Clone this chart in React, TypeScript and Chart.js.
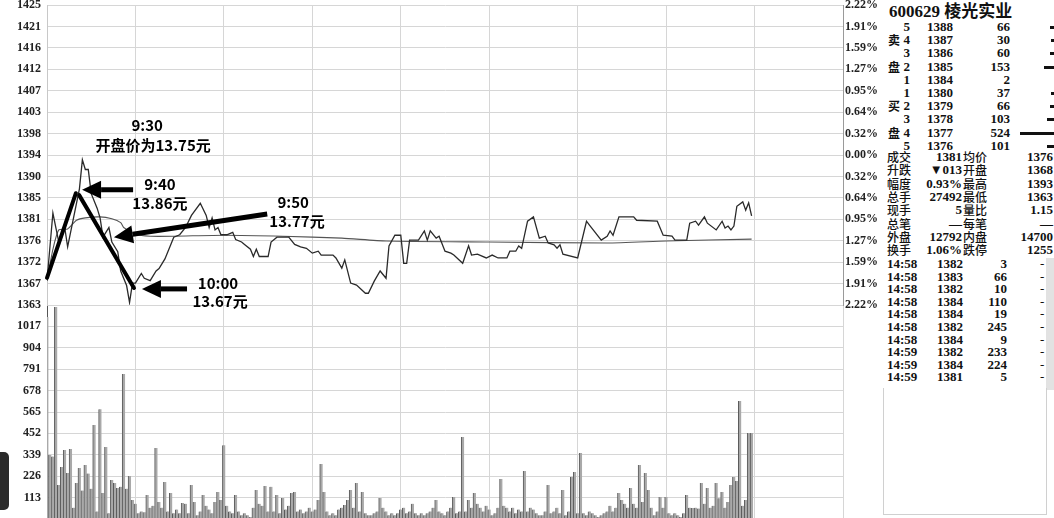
import React, { useEffect, useRef } from 'react';
import { Chart, registerables } from 'chart.js';

Chart.register(...registerables);

// ---------- data ----------
const PREV_CLOSE = 13.94;
const PRICE_STEP = 0.04433;
const MINUTES_SPAN = 270;

const priceTickLabels = ['1425', '1421', '1416', '1412', '1407', '1403', '1398', '1394', '1390', '1385', '1381', '1376', '1372', '1367', '1363'];
const percentTickLabels = ['2.22%', '1.91%', '1.59%', '1.27%', '0.95%', '0.64%', '0.32%', '0.00%', '0.32%', '0.64%', '0.95%', '1.27%', '1.59%', '1.91%', '2.22%'];
const volumeTickLabels = ['1017', '904', '791', '678', '565', '452', '339', '226', '113'];
const VOLUME_STEP = 113;
const VOLUME_MAX = 1130;

// [minute since 9:30, price]
const pricePath: [number, number][] = [
  [0, 13.68], [2, 13.82], [3, 13.79], [4, 13.76], [6, 13.79], [7, 13.75], [9, 13.81], [11, 13.87],
  [12, 13.93], [13, 13.91], [14, 13.91], [15, 13.86], [17, 13.83], [18, 13.81], [19, 13.77], [21, 13.79],
  [22, 13.76], [24, 13.74], [25, 13.70], [27, 13.67], [28, 13.635], [29, 13.675], [30, 13.675], [32, 13.695],
  [33, 13.685], [35, 13.68], [37, 13.70], [38, 13.705], [40, 13.725], [42, 13.755], [43, 13.77], [45, 13.775],
  [47, 13.79], [49, 13.815], [52, 13.84], [54, 13.815], [55, 13.79], [56, 13.81], [57, 13.785], [58, 13.79],
  [59, 13.775], [61, 13.775], [63, 13.78], [64, 13.765], [66, 13.76], [67, 13.755], [69, 13.745], [70, 13.73],
  [71, 13.745], [72, 13.73], [75, 13.73], [76, 13.76], [78, 13.77], [82, 13.77], [84, 13.755], [86, 13.75],
  [88, 13.747], [90, 13.737], [92, 13.741], [93, 13.733], [97, 13.733], [98, 13.727], [100, 13.706], [101, 13.723],
  [103, 13.675], [105, 13.671], [108, 13.654], [109, 13.654], [111, 13.679], [113, 13.70], [115, 13.685], [116, 13.752],
  [118, 13.774], [120, 13.774], [121, 13.716], [122, 13.716], [123, 13.764], [126, 13.764], [128, 13.783], [129, 13.764],
  [130, 13.783], [132, 13.768], [133, 13.772], [135, 13.741], [137, 13.737], [138, 13.733], [141, 13.716], [143, 13.752],
  [144, 13.733], [146, 13.735], [149, 13.727], [151, 13.733], [153, 13.727], [156, 13.727], [157, 13.741], [159, 13.741],
  [160, 13.752], [161, 13.747], [163, 13.803], [165, 13.812], [167, 13.768], [169, 13.772], [170, 13.758], [172, 13.754],
  [173, 13.747], [174, 13.754], [175, 13.735], [180, 13.727], [183, 13.803], [184, 13.795], [188, 13.764], [190, 13.772],
  [191, 13.783], [192, 13.774], [194, 13.812], [199, 13.812], [200, 13.805], [207, 13.803], [209, 13.774], [212, 13.772],
  [213, 13.764], [217, 13.764], [218, 13.799], [220, 13.803], [221, 13.795], [223, 13.812], [224, 13.799], [227, 13.785],
  [229, 13.803], [230, 13.789], [231, 13.793], [232, 13.785], [233, 13.793], [234, 13.834], [236, 13.843], [237, 13.826],
  [238, 13.841], [239, 13.814],
];

// [minute since 9:30, average price]
const averagePath: [number, number][] = [
  [0, 13.68], [2, 13.745], [4, 13.785], [7, 13.787], [10, 13.805], [13, 13.81], [18, 13.812], [22, 13.808],
  [25, 13.80], [26, 13.79], [30, 13.776], [35, 13.772], [43, 13.772], [60, 13.774], [80, 13.772], [100, 13.768],
  [115, 13.762], [150, 13.76], [190, 13.758], [210, 13.762], [239, 13.766],
];

// per-minute volume (手)
const volumeValues = [
  1067, 338, 330, 1120, 180, 275, 364, 243, 370, 60, 190, 269, 150, 285, 240, 160, 496, 40, 580, 137,
  380, 30, 206, 190, 164, 170, 766, 160, 227, 100, 80, 30, 40, 35, 127, 60, 70, 375, 90, 60,
  196, 40, 137, 30, 50, 30, 84, 80, 30, 180, 90, 20, 40, 127, 70, 50, 30, 90, 143, 100,
  390, 70, 40, 30, 127, 40, 20, 30, 20, 10, 60, 153, 80, 70, 174, 40, 170, 40, 127, 30,
  111, 50, 70, 137, 143, 40, 50, 30, 40, 60, 40, 50, 100, 290, 143, 40, 20, 30, 20, 50,
  60, 74, 100, 153, 60, 190, 40, 143, 30, 20, 20, 30, 40, 111, 60, 40, 20, 30, 20, 30,
  50, 60, 30, 40, 80, 30, 20, 30, 20, 30, 40, 60, 100, 40, 30, 20, 40, 60, 116, 30,
  40, 433, 40, 100, 60, 137, 80, 60, 40, 70, 50, 20, 30, 60, 211, 70, 60, 40, 60, 30,
  50, 40, 253, 40, 60, 50, 30, 20, 20, 40, 180, 30, 40, 60, 30, 153, 20, 40, 222, 248,
  30, 348, 30, 20, 40, 30, 20, 10, 20, 30, 40, 70, 40, 60, 137, 100, 80, 60, 164, 80,
  60, 285, 90, 243, 153, 60, 20, 40, 116, 60, 116, 30, 20, 30, 20, 10, 30, 127, 60, 58,
  60, 55, 190, 80, 164, 60, 70, 190, 110, 143, 60, 90, 180, 222, 200, 623, 70, 100, 454, 454,
];

// annotations anchored in [minute, price]
const annotationStrokes: { from: [number, number]; to: [number, number] }[] = [
  { from: [0, 13.686], to: [9.8, 13.861] },
  { from: [10.9, 13.857], to: [29.5, 13.665] },
];
const annotationArrows: { from: [number, number]; to: [number, number] }[] = [
  { from: [29.2, 13.868], to: [11.9, 13.868] },
  { from: [74.7, 13.818], to: [22.7, 13.77] },
  { from: [47.5, 13.663], to: [32.2, 13.663] },
];
const annotationTexts: { text: string; at: [number, number] }[] = [
  { text: '9:30', at: [34, 14.002] },
  { text: '开盘价为13.75元', at: [36, 13.961] },
  { text: '9:40', at: [38.3, 13.88] },
  { text: '13.86元', at: [38.3, 13.841] },
  { text: '9:50', at: [83.5, 13.843] },
  { text: '13.77元', at: [84.8, 13.803] },
  { text: '10:00', at: [58, 13.675] },
  { text: '13.67元', at: [58.7, 13.638] },
];

// side panel
const stockTitle = '600629 棱光实业';
const askLevels = ['5', '4', '3', '2', '1'];
const askPrices = ['1388', '1387', '1386', '1385', '1384'];
const askVolumes = [66, 30, 60, 153, 2];
const bidLevels = ['1', '2', '3', '4', '5'];
const bidPrices = ['1380', '1379', '1378', '1377', '1376'];
const bidVolumes = [37, 66, 103, 524, 101];
const infoLabelsLeft = ['成交', '升跌', '幅度', '总手', '现手', '总笔', '外盘', '换手'];
const infoValuesLeft = ['1381', '▼013', '0.93%', '27492', '5', '—', '12792', '1.06%'];
const infoLabelsRight = ['均价', '开盘', '最高', '最低', '量比', '每笔', '内盘', '跌停'];
const infoValuesRight = ['1376', '1368', '1393', '1363', '1.15', '—', '14700', '1255'];
const tradeTimes = ['14:58', '14:58', '14:58', '14:58', '14:58', '14:58', '14:58', '14:59', '14:59', '14:59'];
const tradePrices = ['1382', '1383', '1382', '1384', '1384', '1382', '1384', '1382', '1384', '1381'];
const tradeVolumes = ['3', '66', '10', '110', '19', '245', '9', '233', '224', '5'];

// ---------- styling ----------
const NUM_FONT = "'Liberation Serif', 'Noto Sans CJK SC', serif";
const CJK_FONT = "'Noto Sans CJK SC', sans-serif";
const GRID = '#d6d6d6';
const W = 1054;

const PRICE_MIN = PREV_CLOSE - 7 * PRICE_STEP;
const PRICE_MAX = PREV_CLOSE + 7 * PRICE_STEP;

const annotationPlugin = {
  id: 'tapeAnnotations',
  afterDraw(chart: any) {
    const { ctx } = chart;
    const xs = chart.scales.x;
    const ys = chart.scales.y;
    const px = (p: [number, number]) => [xs.getPixelForValue(p[0]), ys.getPixelForValue(p[1])];
    ctx.save();
    ctx.strokeStyle = '#000';
    ctx.fillStyle = '#000';
    ctx.lineCap = 'round';
    ctx.lineWidth = 4;
    for (const s of annotationStrokes) {
      const [x1, y1] = px(s.from);
      const [x2, y2] = px(s.to);
      ctx.beginPath();
      ctx.moveTo(x1, y1);
      ctx.lineTo(x2, y2);
      ctx.stroke();
    }
    for (const a of annotationArrows) {
      const [x1, y1] = px(a.from);
      const [x2, y2] = px(a.to);
      const ang = Math.atan2(y2 - y1, x2 - x1);
      const headLen = 19;
      const headHalf = 9;
      const bx = x2 - headLen * Math.cos(ang);
      const by = y2 - headLen * Math.sin(ang);
      ctx.lineWidth = 5;
      ctx.lineCap = 'butt';
      ctx.beginPath();
      ctx.moveTo(x1, y1);
      ctx.lineTo(bx, by);
      ctx.stroke();
      ctx.beginPath();
      ctx.moveTo(x2, y2);
      ctx.lineTo(bx + headHalf * Math.sin(ang), by - headHalf * Math.cos(ang));
      ctx.lineTo(bx - headHalf * Math.sin(ang), by + headHalf * Math.cos(ang));
      ctx.closePath();
      ctx.fill();
    }
    ctx.font = "bold 15px 'Noto Sans CJK SC', sans-serif";
    ctx.textAlign = 'center';
    ctx.textBaseline = 'middle';
    for (const t of annotationTexts) {
      const [x, y] = px(t.at);
      ctx.fillText(t.text, x, y);
    }
    ctx.restore();
  },
};

const T = ({ x, y, align = 'left', size = 13, weight = 700, family = NUM_FONT, children }: any) => {
  const style: any = {
    position: 'absolute',
    top: y - 8,
    lineHeight: '16px',
    fontSize: size,
    fontWeight: weight,
    fontFamily: family,
    whiteSpace: 'nowrap',
    color: '#111',
  };
  if (align === 'right') style.right = W - x;
  else style.left = x;
  return <div style={style}>{children}</div>;
};

const noPad = (s: any) => {
  s.paddingTop = 0;
  s.paddingBottom = 0;
  s.paddingLeft = 0;
  s.paddingRight = 0;
};

export default function App() {
  const priceRef = useRef<HTMLCanvasElement>(null);
  const volRef = useRef<HTMLCanvasElement>(null);

  useEffect(() => {
    const tickFont = { family: NUM_FONT, size: 12, weight: 'bold' as const };
    const priceTicks = priceTickLabels.map((_, i) => PRICE_MAX - i * PRICE_STEP);
    const labelFor = (labels: string[]) => (v: any) => {
      const idx = Math.round((PRICE_MAX - Number(v)) / PRICE_STEP);
      return labels[idx] ?? '';
    };

    const priceChart = new Chart(priceRef.current!, {
      type: 'line',
      data: {
        datasets: [
          {
            data: pricePath.map(([x, y]) => ({ x, y })),
            borderColor: '#2a2a2a',
            borderWidth: 1.3,
            pointRadius: 0,
            tension: 0,
            yAxisID: 'y',
          },
          {
            data: averagePath.map(([x, y]) => ({ x, y })),
            borderColor: '#555',
            borderWidth: 1.1,
            pointRadius: 0,
            tension: 0.2,
            yAxisID: 'y',
          },
        ],
      },
      options: {
        animation: false,
        responsive: false,
        maintainAspectRatio: false,
        events: [],
        layout: { padding: { top: 5, bottom: 15, left: 0, right: 0 }, autoPadding: false },
        plugins: { legend: { display: false }, tooltip: { enabled: false } },
        scales: {
          x: {
            type: 'linear',
            min: 0,
            max: MINUTES_SPAN,
            grid: { color: GRID, drawTicks: false },
            border: { display: false },
            ticks: { display: false, stepSize: 30, autoSkip: false },
            afterFit: (s: any) => { s.height = 0; noPad(s); },
          },
          y: {
            type: 'linear',
            position: 'left',
            min: PRICE_MIN,
            max: PRICE_MAX,
            grid: { color: GRID, drawTicks: false },
            border: { display: true, color: '#c8c8c8' },
            afterBuildTicks: (s: any) => { s.ticks = priceTicks.map((v) => ({ value: v })); },
            ticks: { autoSkip: false, padding: 6, color: '#222', font: tickFont, callback: labelFor(priceTickLabels) },
            afterFit: (s: any) => { s.width = 47; noPad(s); },
          },
          yPct: {
            type: 'linear',
            position: 'right',
            min: PRICE_MIN,
            max: PRICE_MAX,
            grid: { display: false, drawTicks: false },
            border: { display: true, color: '#9a9a9a' },
            afterBuildTicks: (s: any) => { s.ticks = priceTicks.map((v) => ({ value: v })); },
            ticks: { autoSkip: false, padding: 2, color: '#222', font: tickFont, callback: labelFor(percentTickLabels) },
            afterFit: (s: any) => { s.width = 37; noPad(s); },
          },
        },
      } as any,
      plugins: [annotationPlugin],
    });

    const volTicks = Array.from({ length: VOLUME_MAX / VOLUME_STEP + 1 }, (_, i) => i * VOLUME_STEP);
    const volChart = new Chart(volRef.current!, {
      type: 'bar',
      data: {
        datasets: [
          {
            data: volumeValues.map((v, i) => ({ x: i, y: v })),
            backgroundColor: '#a9a9a9',
            borderColor: '#5a5a5a',
            borderWidth: { left: 1, top: 0, right: 0, bottom: 0 },
            borderSkipped: false,
            barPercentage: 1,
            categoryPercentage: 1,
          },
        ],
      },
      options: {
        animation: false,
        responsive: false,
        maintainAspectRatio: false,
        events: [],
        layout: { padding: { top: 1, bottom: 1, left: 0, right: 37 }, autoPadding: false },
        plugins: { legend: { display: false }, tooltip: { enabled: false } },
        scales: {
          x: {
            type: 'linear',
            min: 0,
            max: MINUTES_SPAN,
            offset: false,
            grid: { color: GRID, drawTicks: false, offset: false },
            border: { display: false },
            ticks: { display: false, stepSize: 30, autoSkip: false },
            afterFit: (s: any) => { s.height = 0; noPad(s); },
          },
          y: {
            type: 'linear',
            position: 'left',
            min: 0,
            max: VOLUME_MAX,
            grid: { color: GRID, drawTicks: false },
            border: { display: true, color: '#555' },
            afterBuildTicks: (s: any) => { s.ticks = volTicks.map((v) => ({ value: v })); },
            ticks: {
              autoSkip: false,
              padding: 6,
              color: '#222',
              font: tickFont,
              callback: (v: any) => {
                const idx = Math.round((VOLUME_MAX - Number(v)) / VOLUME_STEP) - 1;
                return volumeTickLabels[idx] ?? '';
              },
            },
            afterFit: (s: any) => { s.width = 47; noPad(s); },
          },
        },
      } as any,
    });

    return () => {
      priceChart.destroy();
      volChart.destroy();
    };
  }, []);

  const orderStep = 13.2;
  const orderTop = 27;
  const infoTop = 157;
  const infoStep = 13.3;
  const tradeTop = 264;
  const tradeStep = 12.6;
  const barScale = 0.065;

  const bookRow = (level: string, price: string, vol: number, row: number, key: string) => {
    const y = orderTop + row * orderStep;
    const bw = vol >= 10 ? Math.max(3, vol * barScale) : 0;
    return (
      <React.Fragment key={key}>
        <T x={910} y={y} align="right">{level}</T>
        <T x={927} y={y}>{price}</T>
        <T x={1010} y={y} align="right">{vol}</T>
        {bw > 0 && (
          <div style={{ position: 'absolute', left: W - bw, top: y - 1, width: bw, height: 3, background: '#111' }} />
        )}
      </React.Fragment>
    );
  };

  return (
    <div style={{ position: 'absolute', left: 0, top: 0, width: W, height: 518, overflow: 'hidden', background: '#fff' }}>
      <canvas ref={volRef} width={880} height={216} style={{ position: 'absolute', left: 0, top: 304, width: 880, height: 216 }} />
      <canvas ref={priceRef} width={880} height={320} style={{ position: 'absolute', left: 0, top: 0, width: 880, height: 320 }} />

      {/* left dark tab */}
      <div style={{ position: 'absolute', left: 0, top: 452, width: 9, height: 58, background: '#2b2b2b', borderRadius: '0 5px 5px 0' }} />

      {/* side panel */}
      <T x={889} y={12} size={17}>{stockTitle}</T>
      {askLevels.map((l, i) => bookRow(l, askPrices[i], askVolumes[i], i, 'a' + i))}
      {bidLevels.map((l, i) => bookRow(l, bidPrices[i], bidVolumes[i], 5 + i, 'b' + i))}
      <T x={888} y={orderTop + 1 * orderStep} family={CJK_FONT} size={12}>卖</T>
      <T x={888} y={orderTop + 3 * orderStep} family={CJK_FONT} size={12}>盘</T>
      <T x={888} y={orderTop + 6 * orderStep} family={CJK_FONT} size={12}>买</T>
      <T x={888} y={orderTop + 8 * orderStep} family={CJK_FONT} size={12}>盘</T>

      {infoLabelsLeft.map((lab, i) => {
        const y = infoTop + i * infoStep;
        return (
          <React.Fragment key={'i' + i}>
            <T x={887} y={y} family={CJK_FONT} size={12} weight={500}>{lab}</T>
            <T x={962} y={y} align="right">{infoValuesLeft[i]}</T>
            <T x={963} y={y} family={CJK_FONT} size={12} weight={500}>{infoLabelsRight[i]}</T>
            <T x={1053} y={y} align="right">{infoValuesRight[i]}</T>
          </React.Fragment>
        );
      })}

      {tradeTimes.map((t, i) => {
        const y = tradeTop + i * tradeStep;
        return (
          <React.Fragment key={'t' + i}>
            <T x={887} y={y}>{t}</T>
            <T x={937} y={y}>{tradePrices[i]}</T>
            <T x={1007} y={y} align="right">{tradeVolumes[i]}</T>
            <T x={1040} y={y} weight={400}>-</T>
          </React.Fragment>
        );
      })}

      <div style={{ position: 'absolute', left: 1046, top: 258, width: 8, height: 132, background: '#e2e2e2' }} />
      <div style={{ position: 'absolute', left: 883, top: 388, width: 162, height: 126, borderLeft: '1px solid #d0d0d0', borderRight: '1px solid #d0d0d0', borderBottom: '1px solid #d0d0d0' }} />
    </div>
  );
}
